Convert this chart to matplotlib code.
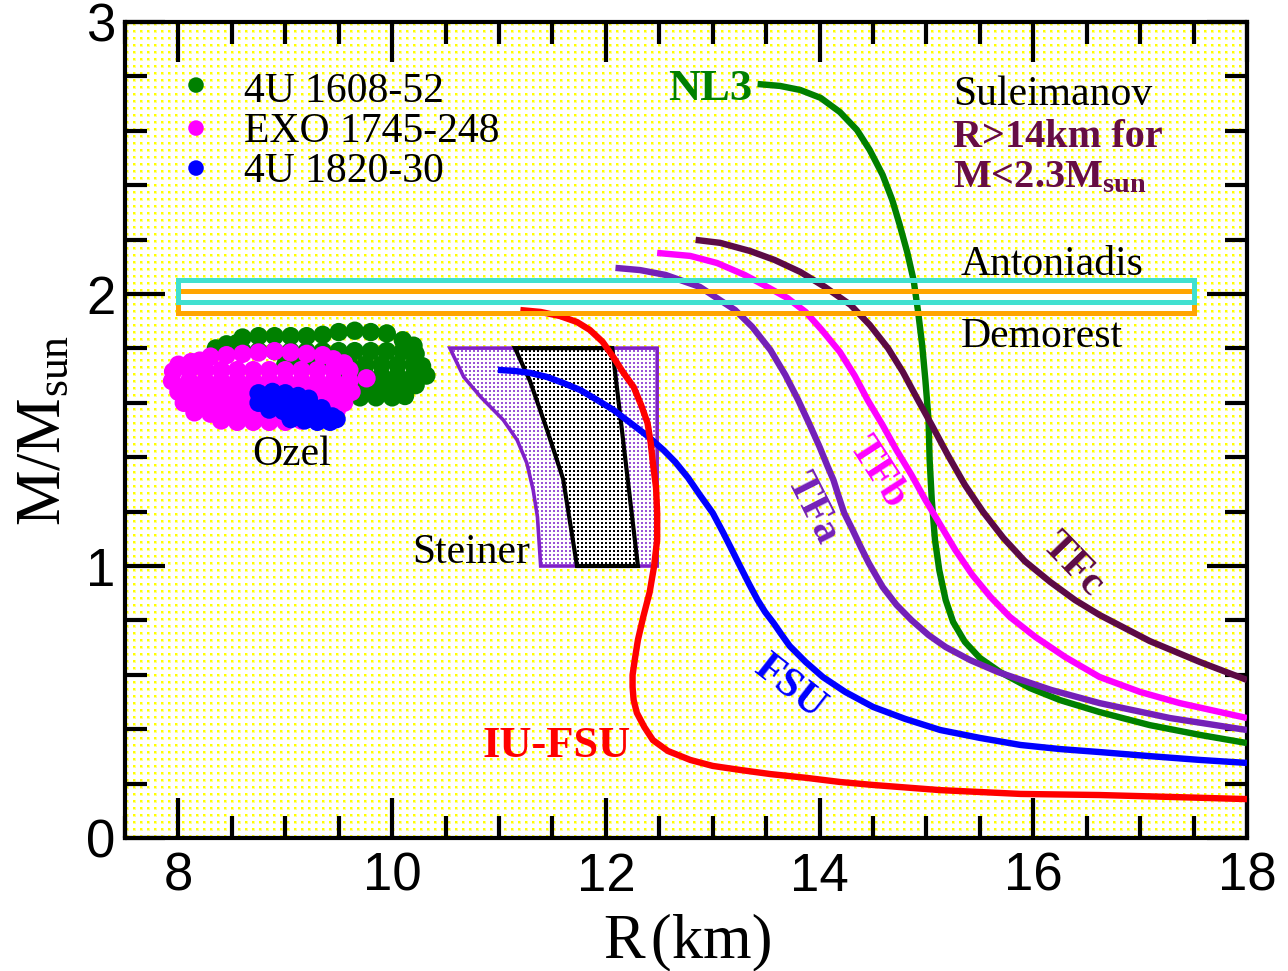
import numpy as np
import matplotlib
matplotlib.use("Agg")
import matplotlib.pyplot as plt
from matplotlib.patches import Polygon, Rectangle
from matplotlib.ticker import MultipleLocator

plt.rcParams['font.family'] = 'Liberation Sans'
plt.rcParams['mathtext.fontset'] = 'custom'
plt.rcParams['mathtext.rm'] = 'Liberation Serif'
plt.rcParams['mathtext.it'] = 'Liberation Serif:italic'
plt.rcParams['mathtext.bf'] = 'Liberation Serif:bold'
SERIF = 'Liberation Serif'

# ---------------- mass-radius relations (R in km, M in M_sun) ----------------
nl3_R = [13.42, 13.63, 13.82, 14.01, 14.19, 14.35, 14.47, 14.59, 14.68, 14.75, 14.82,
         14.88, 14.92, 14.96, 14.99, 15.02, 15.03, 15.05, 15.08, 15.12, 15.18, 15.25,
         15.36, 15.50, 15.69, 15.97, 16.25, 16.62, 17.09, 17.56, 18.00]
nl3_M = [2.772, 2.765, 2.750, 2.721, 2.669, 2.603, 2.529, 2.438, 2.346, 2.254, 2.154,
         2.051, 1.941, 1.813, 1.684, 1.537, 1.390, 1.243, 1.096, 0.985, 0.875, 0.794,
         0.721, 0.662, 0.610, 0.551, 0.507, 0.463, 0.415, 0.379, 0.349]

tfa_R = [12.09, 12.32, 12.56, 12.88, 13.21, 13.37, 13.54, 13.68, 13.80, 13.90, 14.00,
         14.07, 14.13, 14.18, 14.23, 14.31, 14.39, 14.46, 14.59, 14.72, 14.86, 15.02,
         15.18, 15.41, 15.67, 16.17, 16.62, 17.28, 18.00]
tfa_M = [2.096, 2.088, 2.070, 2.026, 1.941, 1.879, 1.794, 1.702, 1.610, 1.526, 1.438,
         1.371, 1.316, 1.254, 1.195, 1.132, 1.066, 1.011, 0.923, 0.857, 0.801, 0.746,
         0.702, 0.654, 0.610, 0.544, 0.496, 0.441, 0.397]

tfb_R = [12.48, 12.79, 13.04, 13.30, 13.51, 13.70, 13.87, 14.02, 14.19, 14.33, 14.45,
         14.59, 14.72, 14.86, 14.99, 15.12, 15.27, 15.43, 15.60, 15.78, 16.02, 16.30,
         16.62, 17.00, 17.37, 18.00]
tfb_M = [2.151, 2.140, 2.114, 2.070, 2.026, 1.985, 1.934, 1.868, 1.787, 1.699, 1.610,
         1.518, 1.426, 1.335, 1.243, 1.158, 1.059, 0.967, 0.886, 0.813, 0.739, 0.665,
         0.592, 0.537, 0.496, 0.441]

tfc_R = [12.84, 13.07, 13.35, 13.58, 13.82, 14.05, 14.29, 14.47, 14.64, 14.78, 14.91,
         15.05, 15.20, 15.36, 15.53, 15.72, 15.92, 16.16, 16.39, 16.62, 17.09, 17.56, 18.00]
tfc_M = [2.199, 2.188, 2.158, 2.125, 2.081, 2.026, 1.960, 1.886, 1.801, 1.713, 1.618,
         1.518, 1.408, 1.298, 1.199, 1.103, 1.018, 0.941, 0.875, 0.820, 0.724, 0.647, 0.581]

fsu_R = [10.99, 11.15, 11.29, 11.45, 11.60, 11.76, 11.92, 12.07, 12.23, 12.39, 12.54,
         12.65, 12.77, 12.88, 13.00, 13.10, 13.18, 13.26, 13.34, 13.42, 13.49, 13.57,
         13.64, 13.72, 13.87, 14.03, 14.24, 14.50, 14.80, 15.13, 15.50, 15.88, 16.25,
         16.62, 17.09, 17.56, 18.00]
fsu_M = [1.721, 1.717, 1.710, 1.695, 1.673, 1.647, 1.610, 1.574, 1.526, 1.478, 1.426,
         1.382, 1.324, 1.261, 1.195, 1.121, 1.059, 0.996, 0.934, 0.875, 0.831, 0.790,
         0.750, 0.706, 0.647, 0.592, 0.537, 0.482, 0.438, 0.397, 0.368, 0.342, 0.327,
         0.316, 0.301, 0.287, 0.276]

iufsu_R = [11.20, 11.39, 11.57, 11.73, 11.85, 11.97, 12.07, 12.16, 12.26, 12.33, 12.39,
           12.42, 12.44, 12.47, 12.48, 12.48, 12.45, 12.41, 12.35, 12.30, 12.27, 12.25,
           12.25, 12.26, 12.29, 12.36, 12.44, 12.58, 12.79, 13.00, 13.26, 13.54, 13.88,
           14.19, 14.50, 15.13, 15.88, 16.62, 17.28, 18.00]
iufsu_M = [1.941, 1.934, 1.919, 1.897, 1.868, 1.824, 1.768, 1.713, 1.658, 1.592, 1.526,
           1.452, 1.379, 1.287, 1.195, 1.096, 0.996, 0.904, 0.813, 0.728, 0.654, 0.599,
           0.555, 0.507, 0.460, 0.408, 0.360, 0.320, 0.287, 0.265, 0.250, 0.235, 0.221,
           0.206, 0.195, 0.176, 0.162, 0.158, 0.151, 0.143]

# ---------------- Steiner constraint regions ----------------
steiner_outer_R = [10.54, 12.48, 12.48, 11.39, 11.36, 11.32, 11.26, 11.17, 11.04, 10.83, 10.67]
steiner_outer_M = [1.801, 1.801, 1.00, 1.00, 1.180, 1.279, 1.379, 1.463, 1.537, 1.621, 1.695]
steiner_inner_R = [11.15, 12.06, 12.30, 11.73, 11.60, 11.45, 11.29]
steiner_inner_M = [1.801, 1.801, 1.00, 1.00, 1.32, 1.50, 1.68]

# ---------------- pulsar mass measurements ----------------
antoniadis_M, antoniadis_err = 2.01, 0.04
demorest_M, demorest_err = 1.97, 0.04
band_R = (8.0, 17.5)

# ---------------- Ozel X-ray burst samples ----------------
ozel_4u1608 = [
    (8.35, 1.80), (8.45, 1.815), (8.55, 1.82),
    (8.60, 1.84), (8.75, 1.845), (8.90, 1.845), (9.05, 1.845), (9.20, 1.845), (9.35, 1.85),
    (9.50, 1.86), (9.65, 1.865), (9.80, 1.86), (9.95, 1.855), (10.10, 1.83), (10.20, 1.81),
    (8.45, 1.79), (8.60, 1.79), (8.75, 1.79), (8.90, 1.79), (9.05, 1.79), (9.20, 1.79),
    (9.35, 1.79), (9.50, 1.79), (9.65, 1.79), (9.80, 1.79), (9.95, 1.79), (10.10, 1.79),
    (10.22, 1.78),
    (9.00, 1.74), (9.15, 1.74), (9.30, 1.74), (9.45, 1.74), (9.60, 1.74), (9.75, 1.74),
    (9.90, 1.74), (10.05, 1.74), (10.20, 1.74), (10.28, 1.735),
    (9.60, 1.70), (9.75, 1.70), (9.90, 1.70), (10.05, 1.70), (10.20, 1.70), (10.32, 1.70),
    (9.50, 1.66), (9.65, 1.66), (9.80, 1.66), (9.95, 1.66), (10.10, 1.66), (10.22, 1.665),
    (9.55, 1.625), (9.70, 1.62), (9.85, 1.62), (10.00, 1.62), (10.12, 1.625),
]
ozel_exo1745 = [
    (8.20, 1.755), (8.30, 1.77), (8.45, 1.775), (8.60, 1.78), (8.75, 1.785), (8.90, 1.79),
    (9.05, 1.785), (9.20, 1.78), (9.35, 1.775), (9.45, 1.76),
    (8.00, 1.74), (8.12, 1.75), (9.55, 1.745),
    (7.95, 1.715), (8.10, 1.72), (8.25, 1.72), (8.40, 1.72), (8.55, 1.72), (8.70, 1.72),
    (8.85, 1.72), (9.00, 1.72), (9.15, 1.72), (9.30, 1.72), (9.45, 1.72), (9.60, 1.72),
    (7.94, 1.68), (8.10, 1.68), (8.25, 1.68), (8.40, 1.68), (8.55, 1.68), (8.70, 1.68),
    (8.85, 1.68), (9.00, 1.68), (9.15, 1.68), (9.30, 1.68), (9.45, 1.68), (9.60, 1.68),
    (9.76, 1.69),
    (8.00, 1.64), (8.15, 1.64), (8.30, 1.64), (8.45, 1.64), (8.60, 1.64), (8.75, 1.64),
    (8.90, 1.64), (9.05, 1.64), (9.20, 1.64), (9.35, 1.64), (9.50, 1.64), (9.62, 1.64),
    (8.05, 1.60), (8.20, 1.60), (8.35, 1.60), (8.50, 1.60), (8.65, 1.60), (8.80, 1.60),
    (8.95, 1.60), (9.10, 1.60), (9.25, 1.60), (9.40, 1.60), (9.55, 1.60),
    (8.15, 1.565), (8.30, 1.56), (8.45, 1.56), (8.60, 1.56), (8.75, 1.56), (8.90, 1.56),
    (9.05, 1.56), (9.20, 1.56), (9.35, 1.56), (9.48, 1.57),
    (8.40, 1.535), (8.55, 1.53), (8.70, 1.53), (8.85, 1.53), (9.00, 1.53), (9.15, 1.535),
    (9.30, 1.54),
]
ozel_4u1820 = [
    (8.75, 1.635), (8.88, 1.64), (9.00, 1.635), (9.12, 1.625), (9.22, 1.615),
    (8.75, 1.60), (8.88, 1.60), (9.00, 1.60), (9.12, 1.595), (9.24, 1.59), (9.34, 1.58),
    (8.85, 1.575), (8.98, 1.57), (9.10, 1.565), (9.22, 1.56), (9.34, 1.555), (9.44, 1.55),
    (9.05, 1.54), (9.18, 1.535), (9.30, 1.53), (9.42, 1.53), (9.48, 1.54),
]
ozel_names = ['4U 1608-52', 'EXO 1745-248', '4U 1820-30']
ozel_colors = ['#008000', '#ff00ff', '#0000ff']

# ---------------- figure ----------------
W, H = 1288, 971
fig = plt.figure(figsize=(W / 100, H / 100), dpi=100)
ax = fig.add_axes([125 / W, 1 - 838 / H, 1122 / W, 816 / H])
XLIM, YLIM = (7.5, 18.0), (0.0, 3.0)
AX_W, AX_H = 1122, 816


def dot_texture(core, halo, step, h=AX_H, w=AX_W, shift=0):
    """White canvas covered with a regular grid of small dots (core + soft halo)."""
    tile = np.ones((step, step, 3))
    tile[1:4, 1:4] = halo
    tile[1:3, 1:3] = core
    reps = (h // step + 2, w // step + 2, 1)
    img = np.tile(tile, reps)
    return img[shift:shift + h, shift:shift + w]


def small_dots(rgb, step, size, h=AX_H, w=AX_W):
    img = np.ones((h, w, 3))
    rows = (np.arange(h) % step) < size
    cols = (np.arange(w) % step) < size
    img[np.outer(rows, cols)] = rgb
    return img


ext = (XLIM[0], XLIM[1], YLIM[0], YLIM[1])
ax.imshow(dot_texture((1.0, 1.0, 0.0), (1.0, 1.0, 0.55), 7), extent=ext, aspect='auto',
          interpolation='nearest', zorder=0)

# Steiner regions with dotted fills
outer = Polygon(np.column_stack([steiner_outer_R, steiner_outer_M]), closed=True,
                fill=False, edgecolor='#8020c8', lw=2.6, zorder=2.8)
inner = Polygon(np.column_stack([steiner_inner_R, steiner_inner_M]), closed=True,
                fill=False, edgecolor='black', lw=3.0, zorder=2.9)
ax.add_patch(outer)
ax.add_patch(inner)
im_o = ax.imshow(small_dots((0.60, 0.33, 0.84), 4, 2), extent=ext,
                 aspect='auto', interpolation='nearest', zorder=2.5)
im_o.set_clip_path(outer)
im_i = ax.imshow(small_dots((0.0, 0.0, 0.0), 4, 2), extent=ext,
                 aspect='auto', interpolation='nearest', zorder=2.6)
im_i.set_clip_path(inner)

# white interior of the pulsar-mass bands
lo = min(antoniadis_M - antoniadis_err, demorest_M - demorest_err)
hi = max(antoniadis_M + antoniadis_err, demorest_M + demorest_err)
ax.add_patch(Rectangle((band_R[0], lo), band_R[1] - band_R[0], hi - lo,
                       facecolor='white', edgecolor='none', zorder=1))

# Ozel samples
for pts, col in zip([ozel_4u1608, ozel_exo1745, ozel_4u1820], ozel_colors):
    pts = np.array(pts)
    ax.scatter(pts[:, 0], pts[:, 1], s=175, color=col, edgecolors='none', zorder=2)

# M-R curves
LW = 4.6
curves = [
    (nl3_R, nl3_M, '#008000'),
    (tfc_R, tfc_M, '#5c0a45'),
    (tfb_R, tfb_M, '#ff00ff'),
    (tfa_R, tfa_M, '#7420b8'),
    (fsu_R, fsu_M, '#0000ff'),
    (iufsu_R, iufsu_M, '#ff0000'),
]
for r, m, c in curves:
    ax.plot(r, m, color=c, lw=LW, solid_capstyle='butt', solid_joinstyle='round', zorder=3)

# band outlines
ax.add_patch(Rectangle((band_R[0], demorest_M - demorest_err), band_R[1] - band_R[0],
                       2 * demorest_err, fill=False, edgecolor='#ffa500', lw=3.6, zorder=5))
ax.add_patch(Rectangle((band_R[0], antoniadis_M - antoniadis_err), band_R[1] - band_R[0],
                       2 * antoniadis_err, fill=False, edgecolor='#40e0d0', lw=3.6, zorder=5.1))

# legend for the Ozel sources
legend_marker_y = [0.9227, 0.8700, 0.8210]
legend_text_y = [0.9023, 0.8533, 0.8043]
for name, col, ym, yt in zip(ozel_names, ozel_colors, legend_marker_y, legend_text_y):
    ax.scatter([0.0633], [ym], s=125, color=col, edgecolors='none',
               transform=ax.transAxes, zorder=6, clip_on=False)
    ax.text(0.1065, yt, name, transform=ax.transAxes,
            fontsize=30, family=SERIF, va='baseline', ha='left', zorder=6)

# annotations
ax.text(13.37, 2.713, 'NL3', color='#008000', fontsize=32, fontweight='bold',
        family=SERIF, ha='right', va='baseline')
ax.text(15.25, 2.695, 'Suleimanov', fontsize=30, family=SERIF, va='baseline')
ax.text(15.25, 2.541, 'R>14km for', color='#660d45', fontsize=29, fontweight='bold',
        family=SERIF, va='baseline')
ax.text(15.25, 2.394, r'M<2.3M$_\mathbf{sun}$', color='#660d45', fontsize=29,
        fontweight='bold', family=SERIF, va='baseline')
ax.text(15.32, 2.07, 'Antoniadis', fontsize=30, family=SERIF, va='baseline')
ax.text(15.32, 1.806, 'Demorest', fontsize=30, family=SERIF, va='baseline')
ax.text(11.29, 1.011, 'Steiner', fontsize=30, family=SERIF, ha='right', va='baseline')
ax.text(9.06, 1.371, 'Ozel', fontsize=30, family=SERIF, ha='center', va='baseline')
ax.text(10.85, 0.298, 'IU-FSU', color='#ff0000', fontsize=32, fontweight='bold',
        family=SERIF, va='baseline')
for txt, x, y, rot, col in [('FSU', 13.72, 0.555, -38, '#0000ff'),
                            ('TFa', 13.93, 1.213, -63, '#7420b8'),
                            ('TFb', 14.54, 1.342, -57, '#ff00ff'),
                            ('TFc', 16.37, 1.004, -46, '#5c0a45')]:
    ax.text(x, y, txt, color=col, fontsize=30, fontweight='bold', family=SERIF,
            rotation=rot, rotation_mode='anchor', ha='center', va='center')

# axes styling
ax.set_xlim(*XLIM)
ax.set_ylim(*YLIM)
ax.set_xticks([8, 10, 12, 14, 16, 18])
ax.set_yticks([0, 1, 2, 3])
ax.xaxis.set_minor_locator(MultipleLocator(0.5))
ax.yaxis.set_minor_locator(MultipleLocator(0.2))
ax.tick_params(which='both', direction='in', top=True, right=True, width=3)
ax.tick_params(which='major', length=29, labelsize=38)
ax.tick_params(axis='x', which='major', pad=10)
ax.tick_params(axis='y', which='major', pad=7)
ax.tick_params(which='minor', length=16)
for s in ax.spines.values():
    s.set_linewidth(3)

ax.set_xlabel('R\u200a(km)', fontsize=45, family=SERIF)
ax.set_ylabel(r'M/M$_{\rm sun}$', fontsize=45, family=SERIF)
ax.xaxis.label.set_va('baseline')
ax.xaxis.set_label_coords(0.502, (838 - 957) / 816)
ax.yaxis.label.set_va('baseline')
ax.yaxis.set_label_coords((60 - 125) / 1122, 0.5)

fig.savefig('out.png', dpi=100)
